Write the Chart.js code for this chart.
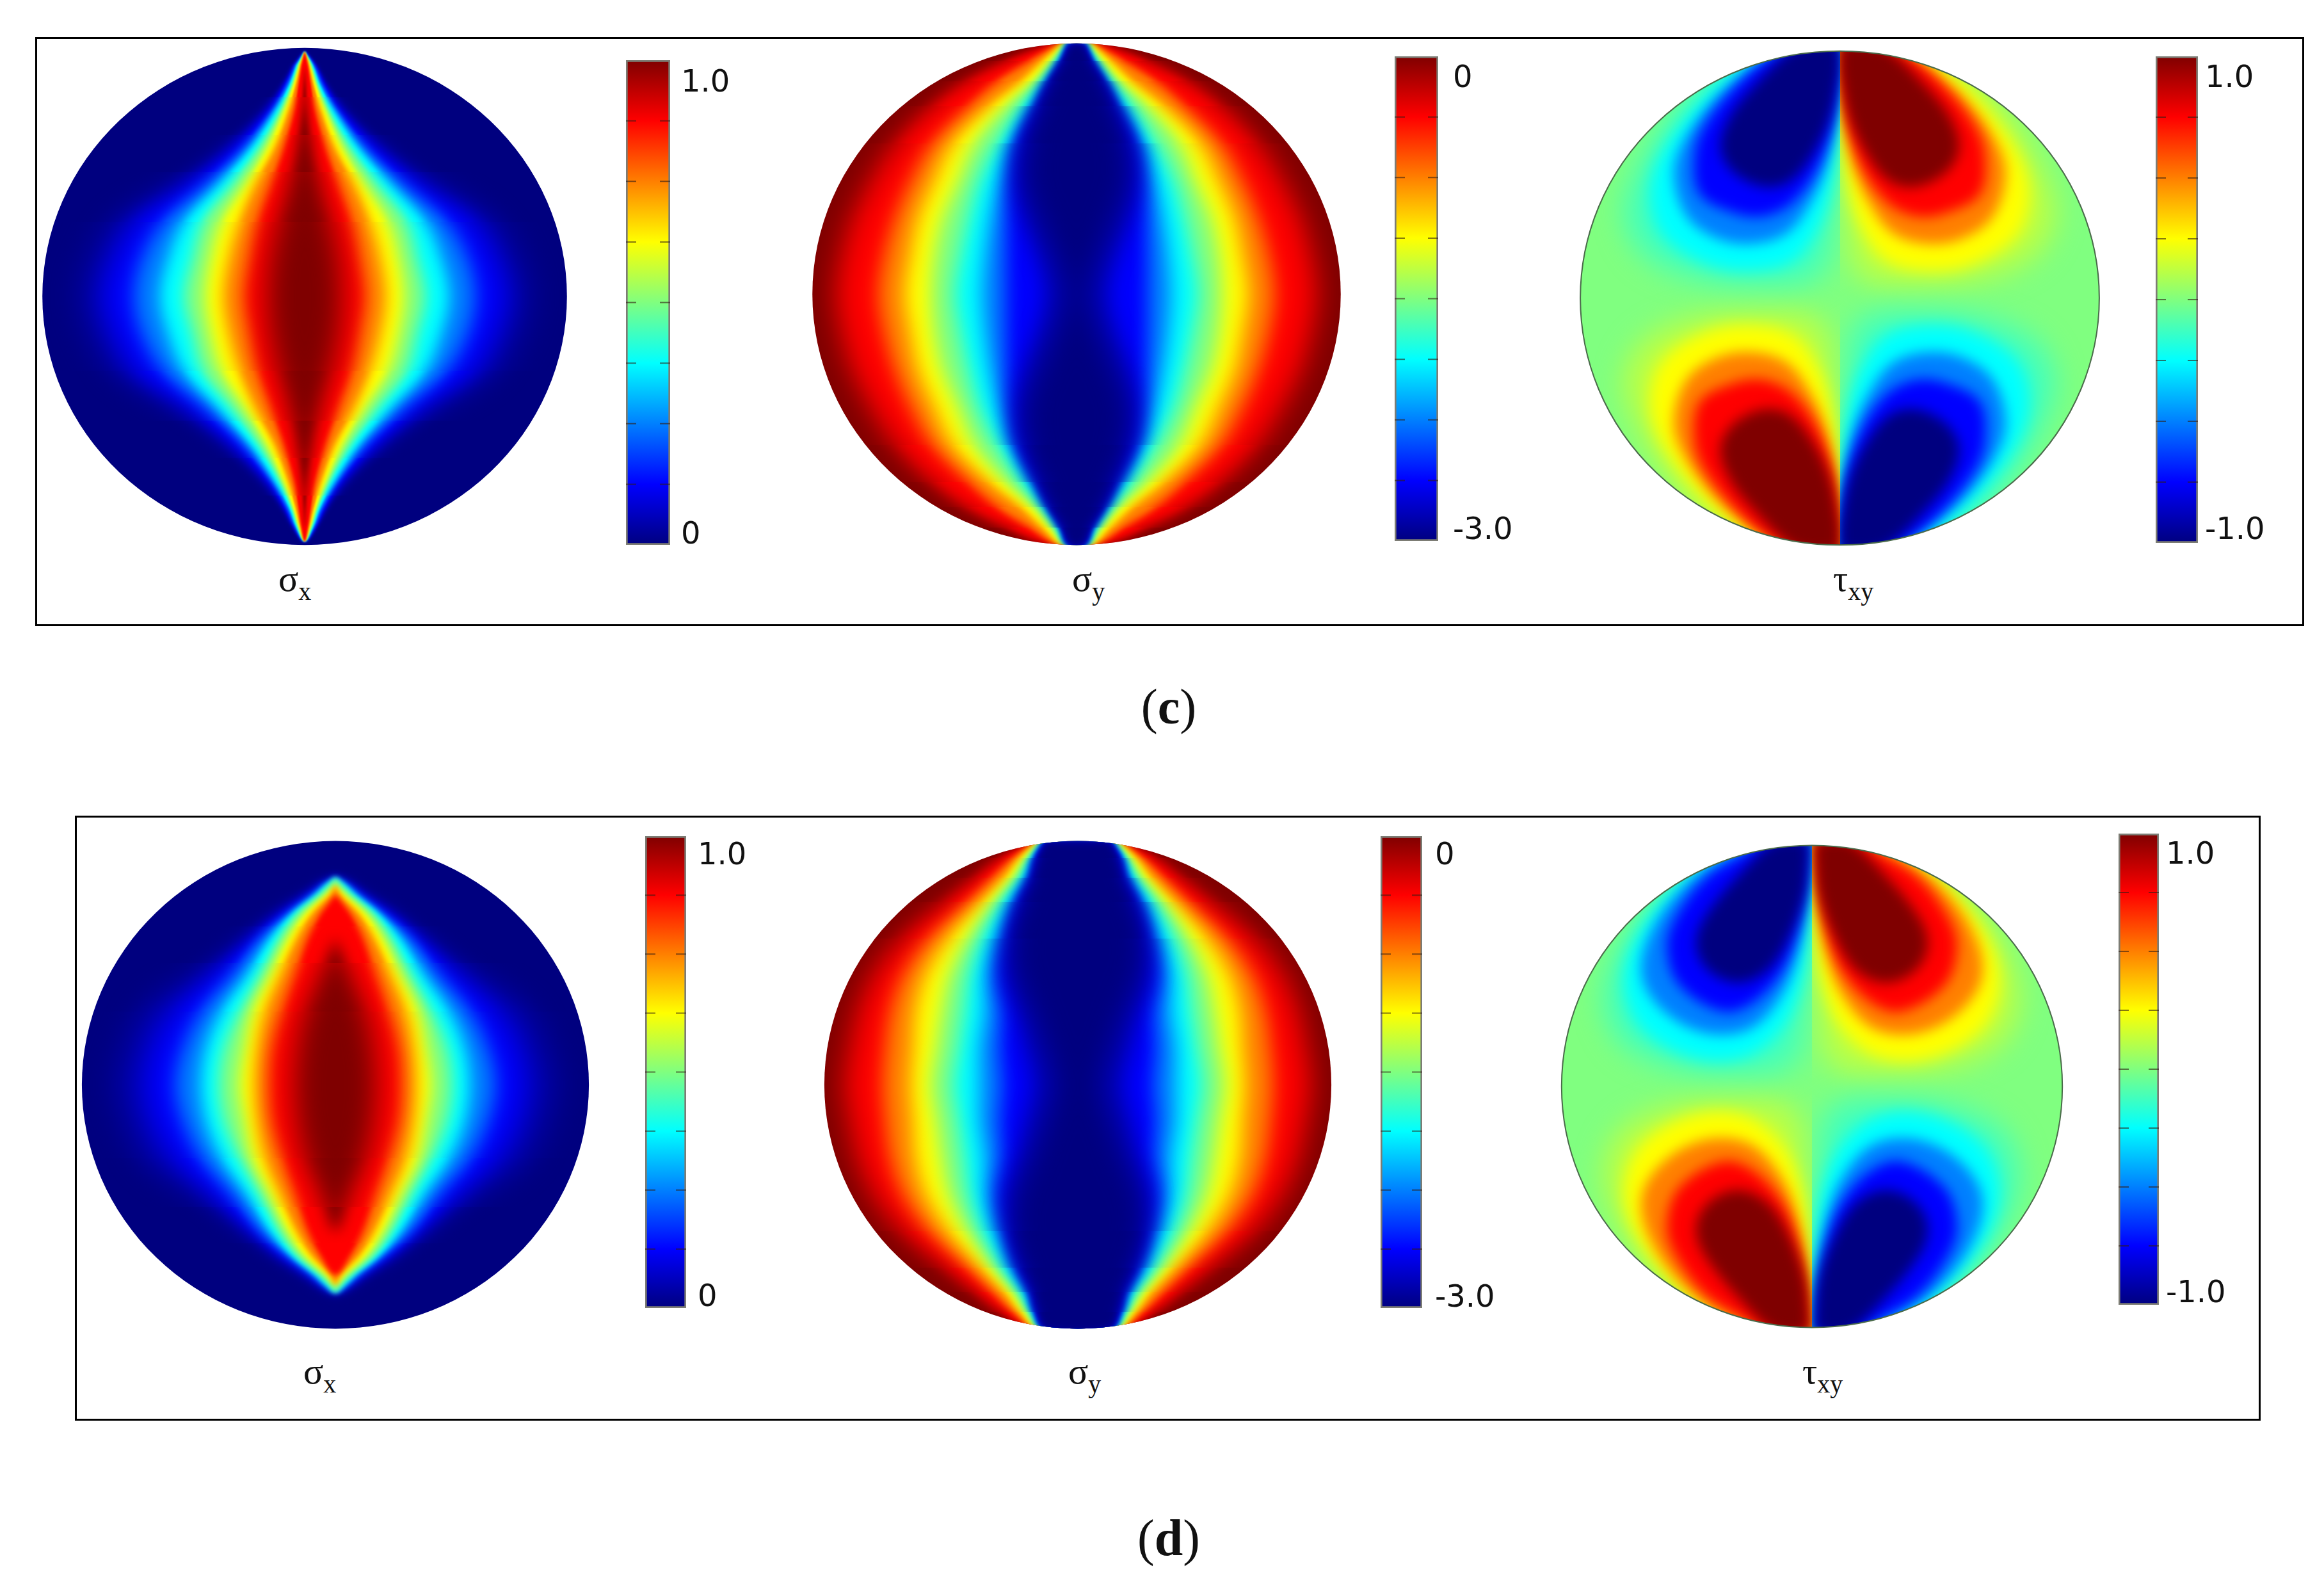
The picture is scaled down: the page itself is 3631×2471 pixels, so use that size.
<!DOCTYPE html>
<html>
<head>
<meta charset="utf-8">
<script src="https://cdn.jsdelivr.net/npm/chart.js@4/dist/chart.umd.min.js"></script>
<style>
html, body { margin: 0; background: #fff; }
#page { position: relative; width: 3631px; height: 2471px; overflow: hidden; }
canvas { position: absolute; }
.frame { position: absolute; box-sizing: border-box; border: 3px solid #000; }
.cap { position: absolute; font-family: "Liberation Serif", serif; line-height: 1; white-space: nowrap; color: #111; }
.cap span { position: relative; }
</style>
</head>
<body>
<div id="page"></div>
<script>
// jet colour map
const jetStops = [0, 0.125, 0.375, 0.625, 0.875, 1];
const jetColors = [[0, 0, 127], [0, 0, 255], [0, 255, 255], [255, 255, 0], [255, 0, 0], [127, 0, 0]];

// jet value inside each contour (0 = bottom of colour bar, 1 = top)
const sxFills = [0.0625, 0.125, 0.25, 0.375, 0.5, 0.625, 0.75, 0.875, 1];
const syFills = [0.875, 0.75, 0.625, 0.5, 0.375, 0.25, 0.125, 0.0625, 0];
const lobeFills = [0.56, 0.625, 0.75, 0.875, 1];

// sigma x (c): half width of each contour, percent of disk radius, per row
const sxcRows = [0, 0.15, 0.3, 0.45, 0.6, 0.75, 0.85, 0.93, 0.985];
const sxcWidths = [
  [84, 80, 72, 50, 31, 16, 9, 4.5, 0],
  [76, 72, 64, 44, 27, 14, 8, 4.2, 0],
  [65, 62, 54, 38, 23.5, 12.5, 7, 3.7, 0],
  [55, 52, 46, 33, 20.5, 11, 6, 3.2, 0],
  [46, 43, 39, 28, 17.5, 9.3, 5.2, 2.7, 0],
  [38, 36, 32, 23, 14.5, 8, 4.4, 2.2, 0],
  [31, 29, 25, 19, 11.5, 6.2, 3.5, 1.7, 0],
  [23, 21, 18, 13, 8, 4, 2.4, 1.2, 0],
  [14, 13, 10, 6, 3, 1, 0.4, 0],
];

// sigma y (c)
const sycRows = [0, 0.15, 0.3, 0.45, 0.6, 0.75, 0.85, 0.93, 1];
const sycWidths = [
  [91, 89, 85, 78, 69, 55, 42, 27, 10],
  [75, 73, 69, 63, 55, 41, 30, 18, 7],
  [65, 63, 60, 54, 47, 33, 21, 13, 5.5],
  [55, 54, 51, 45, 39, 27, 16.5, 10, 4.5],
  [46, 44, 41, 37, 30, 21, 13.5, 8, 4],
  [36, 35, 33, 30, 25, 17, 11, 6.5, 3.5],
  [27, 27, 26.5, 25.5, 23, 15.5, 10.5, 5.8, 3],
  [12, 15, 20, 22.5, 21, 15, 10.5, 5.7, 2.7],
  [5, 9, 15, 20, 19, 14, 10, 5.5, 2.5],
];

// sigma x (d)
const sxdRows = [0, 0.15, 0.3, 0.45, 0.6, 0.7, 0.78, 0.82, 0.85];
const sxdWidths = [
  [85, 81, 75, 55, 37, 25, 12.5, 7, 0],
  [74, 71, 63, 48, 33, 22, 11, 6, 0],
  [63, 60, 53, 41, 30, 19.5, 9.5, 5, 0],
  [53, 51, 45, 35, 26, 17.5, 8, 4, 0],
  [46, 44, 38, 30, 22.5, 15.5, 6.5, 2.5, 0],
  [38, 36, 33, 26, 19, 12.5, 4, 0],
  [32, 31, 28, 22, 15.5, 9.5, 2, 0],
  [26, 25, 21, 16, 11, 6, 0],
  [16, 15, 12, 6, 0],
];

// sigma y (d)
const sydRows = [0, 0.15, 0.3, 0.45, 0.6, 0.75, 0.85, 0.93, 1];
const sydWidths = [
  [92, 90, 87, 81, 70, 53, 41, 31, 18],
  [77, 76, 74, 69, 59, 44, 34, 26, 17],
  [66, 65, 64, 60, 51, 38, 29, 23, 15.5],
  [58, 56, 54, 51, 44, 34, 26, 21, 15],
  [49, 47, 45, 43, 38, 30, 23, 19, 14],
  [39, 39, 37, 37, 33, 27, 21, 18, 13.5],
  [30, 31, 30, 32, 29, 24, 19, 17, 13],
  [18, 21, 24, 28, 27, 23, 18, 16, 12.5],
  [10, 14, 19, 25, 26, 22, 18, 16, 12.5],
];

// tau xy: upper right lobe outline per contour, the other three lobes mirror it
const tcLobes = [
  [[0, 1.03], [0.33, 1.03], [0.5, 0.93], [0.66, 0.74], [0.79, 0.5], [0.83, 0.32], [0.74, 0.16], [0.52, 0.07], [0.3, 0.05], [0.12, 0.065], [0.045, 0.14], [0.022, 0.35], [0.008, 0.6], [0, 0.8]],
  [[0, 1.03], [0.24, 1.03], [0.4, 0.93], [0.57, 0.76], [0.7, 0.56], [0.73, 0.4], [0.68, 0.25], [0.52, 0.14], [0.35, 0.11], [0.18, 0.15], [0.08, 0.29], [0.03, 0.46], [0.012, 0.62], [0, 0.85]],
  [[0, 1.03], [0.17, 1.03], [0.31, 0.95], [0.47, 0.82], [0.6, 0.64], [0.64, 0.5], [0.59, 0.33], [0.47, 0.24], [0.33, 0.22], [0.2, 0.265], [0.11, 0.39], [0.05, 0.54], [0.015, 0.72], [0, 0.88]],
  [[0, 1.03], [0.12, 1.03], [0.28, 0.965], [0.4, 0.86], [0.52, 0.7], [0.56, 0.58], [0.54, 0.42], [0.41, 0.345], [0.3, 0.33], [0.19, 0.38], [0.1, 0.5], [0.04, 0.66], [0.008, 0.82], [0, 0.9]],
  [[0, 1.03], [0.1, 1.03], [0.19, 1], [0.32, 0.87], [0.42, 0.74], [0.46, 0.61], [0.41, 0.51], [0.29, 0.45], [0.19, 0.475], [0.1, 0.59], [0.035, 0.74], [0, 0.92]],
];
const tdLobes = [
  [[0.003, 1.03], [0.36, 1.03], [0.52, 0.93], [0.66, 0.76], [0.79, 0.54], [0.83, 0.34], [0.75, 0.17], [0.52, 0.07], [0.3, 0.05], [0.12, 0.065], [0.045, 0.14], [0.022, 0.35], [0.008, 0.6], [0.002, 0.95]],
  [[0.004, 1.03], [0.26, 1.03], [0.4, 0.95], [0.57, 0.8], [0.71, 0.6], [0.75, 0.42], [0.68, 0.24], [0.48, 0.12], [0.27, 0.12], [0.12, 0.24], [0.04, 0.43], [0.012, 0.64], [0.003, 0.93]],
  [[0.005, 1.03], [0.17, 1.03], [0.275, 0.99], [0.49, 0.85], [0.64, 0.65], [0.68, 0.46], [0.59, 0.31], [0.42, 0.22], [0.245, 0.24], [0.12, 0.38], [0.05, 0.57], [0.014, 0.78], [0.005, 0.93]],
  [[0.008, 1.03], [0.14, 1.03], [0.26, 0.97], [0.42, 0.87], [0.54, 0.71], [0.58, 0.58], [0.53, 0.42], [0.35, 0.31], [0.22, 0.36], [0.11, 0.5], [0.05, 0.69], [0.013, 0.89]],
  [[0.012, 1.02], [0.14, 1.02], [0.29, 0.88], [0.44, 0.68], [0.46, 0.565], [0.4, 0.47], [0.29, 0.43], [0.18, 0.48], [0.1, 0.6], [0.03, 0.79], [0.012, 0.95]],
];

// colour bar axis ranges and labelled ticks
const barRanges = [[-0.02, 1.052], [-3.064, 0.153], [-1.051, 1.102], [-0.022, 1.046], [-3.065, 0.139], [-1.047, 1.1]];
const barTicks = [[0, 1], [-3, 0], [-1, 1], [0, 1], [-3, 0], [-1, 1]];

// layout in page pixels
const frames = [[55, 58, 3545, 920], [117, 1274, 3415, 945]];
const disks = [
  [476, 463, 410, 388], [1681.5, 459.5, 412.5, 391.5], [2874.5, 466, 405.5, 386],
  [524, 1695, 396, 381], [1684, 1695, 396, 381], [2830.5, 1697.5, 391, 376.5],
];
const bars = [
  [978, 94, 69, 757, 9], [2179, 88, 68, 757, 15], [3368, 88, 66, 760, 3],
  [1008, 1306, 64, 737, 10], [2157, 1306, 65, 737, 12], [3310, 1302, 63, 736, 3],
];
const captions = [
  ['σ', 'x', 435, 924], ['σ', 'y', 1675, 924], ['τ', 'xy', 2864, 924],
  ['σ', 'x', 474, 2162], ['σ', 'y', 1669, 2162], ['τ', 'xy', 2816, 2162],
];
// soft edge per height band [from, to, blur px], the tips need a tight edge
const sxcZones = [[0, 0.3, 11], [0.3, 0.5, 8], [0.5, 0.65, 5], [0.65, 0.8, 3], [0.8, 1.1, 1.5]];
const sxdZones = [[0, 0.3, 11], [0.3, 0.5, 9], [0.5, 0.65, 6], [0.65, 0.8, 4.5], [0.8, 1.1, 4]];
const syZones = [[0, 0.6, 14], [0.6, 0.75, 11], [0.75, 0.85, 8], [0.85, 0.93, 6], [0.93, 1.1, 4]];
const lobeZones = [[0, 1.1, 10]];
const sxSoft = [2.5, 1.8, 1.3, 1, 1, 1, 1, 1, 1.9];
const sySoft = [1.5, 1, 1, 1, 1, 1, 1, 1.2, 1.6];
const lobeSoft = [2.2, 1.2, 1, 1, 1];

const page = document.getElementById('page');

function jet(t) {
  t = Math.min(1, Math.max(0, t));
  let i = 0;
  while (i < jetStops.length - 2 && t > jetStops[i + 1]) i++;
  const f = (t - jetStops[i]) / (jetStops[i + 1] - jetStops[i]);
  const c = jetColors[i].map((v, k) => Math.round(v + (jetColors[i + 1][k] - v) * f));
  return `rgb(${c[0]},${c[1]},${c[2]})`;
}

// closed outline from half widths, mirrored left/right and top/bottom
function lensPoints(rows, widths) {
  const right = [];
  for (let i = widths.length - 1; i >= 0; i--) right.push({ x: widths[i] / 100, y: rows[i] });
  for (let i = 1; i < widths.length; i++) right.push({ x: widths[i] / 100, y: -rows[i] });
  const left = right.slice().reverse().filter(p => p.x > 0).map(p => ({ x: -p.x, y: p.y }));
  return right.concat(left);
}

function lensDatasets(rows, table, fills, soft) {
  return table.map((widths, i) => ({
    data: lensPoints(rows, widths),
    backgroundColor: jet(fills[i]),
    soft: soft[i],
  }));
}

function lobeDatasets(lobes) {
  const out = [];
  [[1, 1, false], [-1, -1, false], [-1, 1, true], [1, -1, true]].forEach(([sx, sy, flip]) => {
    lobes.forEach((lobe, i) => {
      out.push({
        data: lobe.map(p => ({ x: p[0] * sx, y: p[1] * sy })),
        backgroundColor: jet(flip ? 1 - lobeFills[i] : lobeFills[i]),
        side: sx,
        soft: lobeSoft[i],
      });
    });
  });
  return out;
}

// fills each contour with a soft edge, clipped to the disk
const contourFill = {
  id: 'contourFill',
  beforeDatasetsDraw(chart) {
    const ctx = chart.ctx;
    ctx.save();
    diskPath(chart);
    ctx.clip();
    ctx.fillStyle = chart.options.plugins.contourFill.base;
    ctx.fillRect(0, 0, chart.width, chart.height);
    ctx.restore();
  },
  beforeDatasetDraw(chart, args) {
    const ctx = chart.ctx;
    const ds = chart.data.datasets[args.index];
    const { x, y } = chart.scales;
    chart.options.plugins.contourFill.zones.forEach(([lo, hi, blur]) => {
      ctx.save();
      diskPath(chart);
      ctx.clip();
      const hiA = Math.round(y.getPixelForValue(hi)), loA = Math.round(y.getPixelForValue(lo));
      const loB = Math.round(y.getPixelForValue(-lo)), hiB = Math.round(y.getPixelForValue(-hi));
      ctx.beginPath();
      ctx.rect(0, hiA, chart.width, loA - hiA);
      ctx.rect(0, loB, chart.width, hiB - loB);
      ctx.clip();
      if (ds.side) {
        const mid = Math.round(x.getPixelForValue(0));
        ctx.beginPath();
        if (ds.side > 0) ctx.rect(mid, 0, chart.width - mid, chart.height);
        else ctx.rect(0, 0, mid, chart.height);
        ctx.clip();
      }
      ctx.filter = `blur(${blur * ds.soft}px)`;
      ctx.fillStyle = ds.backgroundColor;
      ctx.beginPath();
      args.meta.dataset.path(ctx);
      ctx.closePath();
      ctx.fill();
      ctx.restore();
    });
    return false;
  },
  afterDatasetsDraw(chart) {
    const outline = chart.options.plugins.contourFill.outline;
    if (!outline) return;
    const ctx = chart.ctx;
    ctx.save();
    diskPath(chart);
    ctx.strokeStyle = outline;
    ctx.lineWidth = 2;
    ctx.stroke();
    ctx.restore();
  },
};

function diskPath(chart) {
  const { x, y } = chart.scales;
  const cx = x.getPixelForValue(0), cy = y.getPixelForValue(0);
  chart.ctx.beginPath();
  chart.ctx.ellipse(cx, cy, x.getPixelForValue(1) - cx, cy - y.getPixelForValue(1), 0, 0, Math.PI * 2);
}

function addCanvas(left, top, width, height) {
  const c = document.createElement('canvas');
  c.width = width;
  c.height = height;
  c.style.left = left + 'px';
  c.style.top = top + 'px';
  page.appendChild(c);
  return c;
}

function drawDisk(box, datasets, base, zones, outline) {
  const [cx, cy, rx, ry] = box;
  const m = 1.02;
  const left = Math.round(cx - rx * m), top = Math.round(cy - ry * m);
  const w = Math.round(rx * m * 2), h = Math.round(ry * m * 2);
  datasets.forEach(d => { d.tension = 0.35; d.pointRadius = 0; d.borderWidth = 0; d.capBezierPoints = false; });
  // Chart.js paints the first dataset last, so the outermost contour goes at the end
  datasets.reverse();
  new Chart(addCanvas(left, top, w, h), {
    type: 'line',
    data: { datasets },
    options: {
      responsive: false,
      animation: false,
      devicePixelRatio: 1,
      events: [],
      layout: { padding: 0 },
      scales: {
        x: { type: 'linear', display: false, min: -m, max: m },
        y: { type: 'linear', display: false, min: -m, max: m },
      },
      plugins: { legend: { display: false }, tooltip: { enabled: false }, contourFill: { base, zones, outline } },
    },
    plugins: [contourFill],
  });
}

// short marks at every eighth of the bar, as on the original colour bars
const barMarks = {
  id: 'barMarks',
  afterDatasetsDraw(chart) {
    const { ctx, chartArea } = chart;
    const y = chart.scales.y;
    ctx.save();
    ctx.strokeStyle = 'rgba(50,30,20,0.6)';
    ctx.lineWidth = 2;
    for (let k = 1; k < 8; k++) {
      const py = y.getPixelForValue(y.min + (y.max - y.min) * k / 8);
      ctx.beginPath();
      ctx.moveTo(chartArea.left, py);
      ctx.lineTo(chartArea.left + 16, py);
      ctx.moveTo(chartArea.right - 16, py);
      ctx.lineTo(chartArea.right, py);
      ctx.stroke();
    }
    ctx.restore();
  },
};

function drawBar(box, range, ticks) {
  const [left, top, w, h, gap] = box;
  const pad = 4, axisW = 170;
  new Chart(addCanvas(left - pad, top - pad, w + pad + axisW, h + pad * 2), {
    type: 'bar',
    data: {
      labels: [''],
      datasets: [{
        data: [range],
        barPercentage: 1,
        categoryPercentage: 1,
        borderWidth: 3,
        borderColor: 'rgba(80,80,70,0.75)',
        borderSkipped: false,
        backgroundColor(ctx) {
          const area = ctx.chart.chartArea;
          if (!area) return '#000';
          const g = ctx.chart.ctx.createLinearGradient(0, area.bottom, 0, area.top);
          jetStops.forEach(t => g.addColorStop(t, jet(t)));
          return g;
        },
      }],
    },
    options: {
      responsive: false,
      animation: false,
      devicePixelRatio: 1,
      events: [],
      layout: { padding: { left: pad, top: pad, bottom: pad, right: 0 } },
      scales: {
        x: { display: false },
        y: {
          position: 'right',
          min: range[0],
          max: range[1],
          grid: { display: false },
          border: { display: false },
          afterBuildTicks: s => { s.ticks = ticks.map(v => ({ value: v })); },
          // labels sit inside the bar height, so no room is kept for them
          afterFit: s => { s.width = axisW; s.paddingTop = 0; s.paddingBottom = 0; },
          ticks: {
            autoSkip: false,
            padding: gap,
            color: '#111',
            font: { family: '"DejaVu Sans"', size: 48 },
            callback: v => (v === 0 ? '0' : v.toFixed(1)),
          },
        },
      },
      plugins: { legend: { display: false }, tooltip: { enabled: false } },
    },
    plugins: [barMarks],
  });
}

function addCaption(sym, sub, left, base) {
  const d = document.createElement('div');
  d.className = 'cap';
  d.style.fontSize = '58px';
  d.style.left = left + 'px';
  d.style.top = (base - 48.6) + 'px';
  const s = document.createElement('span');
  s.textContent = sub;
  s.style.fontSize = '40px';
  s.style.top = '14px';
  d.append(sym, s);
  page.appendChild(d);
}

function addPanelLabel(letter, centre, base, size) {
  const d = document.createElement('div');
  d.className = 'cap';
  d.style.fontSize = size + 'px';
  d.style.left = (centre - 200) + 'px';
  d.style.width = '400px';
  d.style.textAlign = 'center';
  d.style.top = (base - size * 0.8375) + 'px';
  const b = document.createElement('b');
  b.textContent = letter;
  d.append('(', b, ')');
  page.appendChild(d);
}

frames.forEach(([l, t, w, h]) => {
  const f = document.createElement('div');
  f.className = 'frame';
  f.style.cssText = `left:${l}px;top:${t}px;width:${w}px;height:${h}px`;
  page.appendChild(f);
});

const outlineColor = '#4a6a4a';
drawDisk(disks[0], lensDatasets(sxcRows, sxcWidths, sxFills, sxSoft), jet(0), sxcZones);
drawDisk(disks[1], lensDatasets(sycRows, sycWidths, syFills, sySoft), jet(1), syZones);
drawDisk(disks[2], lobeDatasets(tcLobes), jet(0.5), lobeZones, outlineColor);
drawDisk(disks[3], lensDatasets(sxdRows, sxdWidths, sxFills, sxSoft), jet(0), sxdZones);
drawDisk(disks[4], lensDatasets(sydRows, sydWidths, syFills, sySoft), jet(1), syZones);
drawDisk(disks[5], lobeDatasets(tdLobes), jet(0.5), lobeZones, outlineColor);

bars.forEach((b, i) => drawBar(b, barRanges[i], barTicks[i]));
captions.forEach(c => addCaption(c[0], c[1], c[2], c[3]));
addPanelLabel('c', 1826, 1130, 78);
addPanelLabel('d', 1826, 2429, 80);
</script>
</body>
</html>
